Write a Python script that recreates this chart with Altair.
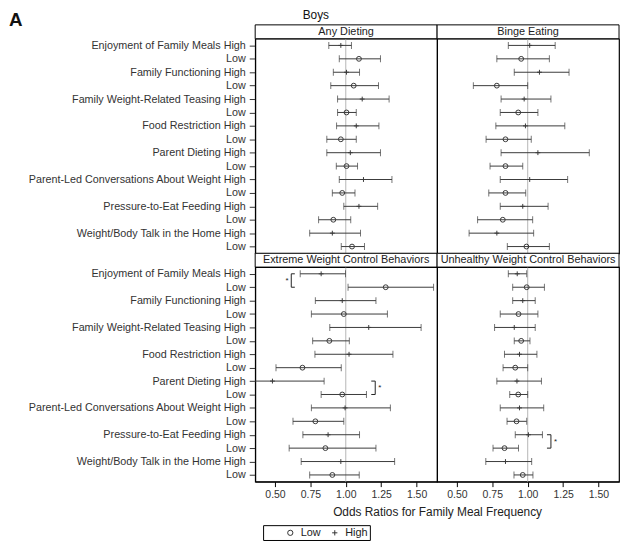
import altair as alt
import pandas as pd

factors = [
    "Enjoyment of Family Meals",
    "Family Functioning",
    "Family Weight-Related Teasing",
    "Food Restriction",
    "Parent Dieting",
    "Parent-Led Conversations About Weight",
    "Pressure-to-Eat Feeding",
    "Weight/Body Talk in the Home",
]
levels = ["High", "Low"]
outcomes = [
    "Any Dieting",
    "Binge Eating",
    "Extreme Weight Control Behaviors",
    "Unhealthy Weight Control Behaviors",
]

# rows: factor High, Low, next factor High, Low ...
any_est = [0.965, 1.093, 1.005, 1.056, 1.116, 1.005, 1.074, 0.965, 1.032, 1.005, 1.125, 0.975, 1.093, 0.912, 0.905, 1.044]
any_lo = [0.880, 0.954, 0.912, 0.894, 0.942, 0.942, 0.935, 0.866, 0.866, 0.933, 0.954, 0.905, 0.986, 0.808, 0.745, 0.968]
any_hi = [1.040, 1.245, 1.097, 1.231, 1.306, 1.074, 1.234, 1.074, 1.245, 1.083, 1.326, 1.065, 1.225, 1.035, 1.104, 1.132]

binge_est = [1.014, 0.954, 1.083, 0.782, 0.975, 0.933, 0.984, 0.843, 1.072, 0.843, 1.014, 0.843, 0.965, 0.824, 0.782, 0.991]
binge_lo = [0.863, 0.782, 0.905, 0.616, 0.812, 0.806, 0.775, 0.706, 0.812, 0.734, 0.806, 0.725, 0.806, 0.646, 0.586, 0.856]
binge_hi = [1.194, 1.153, 1.292, 1.000, 1.164, 1.072, 1.262, 1.025, 1.435, 0.965, 1.282, 0.986, 1.144, 1.035, 1.042, 1.153]

ewcb_est = [0.826, 1.282, 0.975, 0.986, 1.162, 0.884, 1.023, 0.694, 0.482, 0.975, 0.995, 0.785, 0.875, 0.856, 0.965, 0.905]
ewcb_lo = [0.678, 1.016, 0.785, 0.757, 0.887, 0.766, 0.782, 0.507, 0.300, 0.826, 0.757, 0.627, 0.697, 0.600, 0.685, 0.745]
ewcb_hi = [0.998, 1.620, 1.213, 1.294, 1.532, 1.025, 1.333, 0.968, 0.847, 1.146, 1.315, 0.986, 1.097, 1.213, 1.345, 1.095]

uwcb_est = [0.926, 0.993, 0.965, 0.935, 0.905, 0.954, 0.942, 0.912, 0.924, 0.933, 0.942, 0.921, 1.005, 0.836, 0.843, 0.965]
uwcb_lo = [0.863, 0.894, 0.894, 0.806, 0.766, 0.905, 0.836, 0.826, 0.782, 0.873, 0.806, 0.854, 0.912, 0.755, 0.704, 0.903]
uwcb_hi = [0.993, 1.118, 1.053, 1.072, 1.053, 1.016, 1.065, 1.000, 1.097, 1.000, 1.113, 0.993, 1.104, 0.935, 1.028, 1.037]

# significance brackets: outcome, bracket line x, cap end x, first row, second row, star x
ann_outcome = ["Extreme Weight Control Behaviors", "Extreme Weight Control Behaviors", "Unhealthy Weight Control Behaviors"]
ann_x = [0.615, 1.208, 1.164]
ann_cap = [0.640, 1.180, 1.136]
ann_row_a = [0, 8, 12]
ann_row_b = [1, 9, 13]
ann_star = [0.585, 1.240, 1.196]

tick_values = [0.50, 0.75, 1.00, 1.25, 1.50]

row_labels = []
for f in factors:
    row_labels += [f + " High", "Low"]

series = {
    outcomes[0]: (any_est, any_lo, any_hi),
    outcomes[1]: (binge_est, binge_lo, binge_hi),
    outcomes[2]: (ewcb_est, ewcb_lo, ewcb_hi),
    outcomes[3]: (uwcb_est, uwcb_lo, uwcb_hi),
}

records = []
for o, (e, lo, hi) in series.items():
    for i in range(16):
        records.append({"outcome": o, "row": i, "level": levels[i % 2],
                        "est": e[i], "lo": lo[i], "hi": hi[i]})
df = pd.DataFrame(records)

ann = pd.DataFrame({"outcome": ann_outcome, "x": ann_x, "cap": ann_cap,
                    "ra": ann_row_a, "rb": ann_row_b, "star": ann_star, "s": ["*"] * 3})

W, H = 184, 217
FONT = "Liberation Sans"
LINE = "#3a3a3a"
label_expr = "[" + ",".join("'" + l + "'" for l in row_labels) + "][datum.value]"

xscale = alt.Scale(domain=[0.36, 1.645], nice=False, zero=False)
yscale = alt.Scale(type="point", domain=list(range(16)), padding=0.5)


def panel(outcome, show_y, show_x, title_x, legend, extra_text=False):
    if show_x:
        xaxis = alt.Axis(values=tick_values, format=".2f", grid=False, tickSize=5,
                         labelFontSize=10.6, labelColor="#333", tickColor="black",
                         domainColor="black", labelPadding=3,
                         titleFontSize=12, titleFontWeight="normal", titleColor="#222",
                         titlePadding=7, **({"titleX": W} if title_x else {}))
    else:
        xaxis = None
    if show_y:
        yaxis = alt.Axis(labelExpr=label_expr, grid=False, tickSize=6, labelPadding=4,
                         labelFontSize=10.9, labelColor="#333", tickColor="#333",
                         labelLimit=400, domainColor="black", title=None)
    else:
        yaxis = None

    xtitle = "Odds Ratios for Family Meal Frequency" if title_x else None

    def X(field):
        return alt.X(field, type="quantitative", scale=xscale, axis=xaxis, title=xtitle)

    def Y(field):
        return alt.Y(field, type="ordinal", scale=yscale, axis=yaxis)

    d = df[df.outcome == outcome]
    base = alt.Chart(d)

    ref = alt.Chart(pd.DataFrame({"v": [1.0]})).mark_rule(color="#b5b5b5", strokeWidth=1).encode(x=X("v"))
    ci = base.mark_rule(color=LINE, strokeWidth=1, clip=True).encode(x=X("lo"), x2="hi", y=Y("row"))
    cap_lo = base.mark_tick(color=LINE, size=7, thickness=1, orient="vertical", clip=True).encode(x=X("lo"), y=Y("row"))
    cap_hi = base.mark_tick(color=LINE, size=7, thickness=1, orient="vertical", clip=True).encode(x=X("hi"), y=Y("row"))
    if legend:
        leg = alt.Legend(orient="none", legendX=8, legendY=261, direction="horizontal",
                         title=" ", titleOrient="left", titlePadding=20,
                         strokeColor="black", padding=2, labelFontSize=11, labelColor="#222",
                         symbolSize=28, symbolStrokeWidth=1, symbolStrokeColor="#333",
                         columnPadding=8, labelOffset=5)
    else:
        leg = None
    pts = base.mark_point(filled=False, color=LINE, strokeWidth=1, size=24, opacity=1, clip=True).encode(
        x=X("est"), y=Y("row"),
        shape=alt.Shape("level:N", scale=alt.Scale(domain=["Low", "High"],
                                                   range=["circle", "M-1,0L1,0M0,-1L0,1"]),
                        legend=leg),
    )
    hdr = alt.Chart(pd.DataFrame({"t": [outcome]}))
    hbox = hdr.mark_rect(fill="white", stroke="black", strokeWidth=1).encode(
        x=alt.value(0), x2=alt.value(W), y=alt.value(-14), y2=alt.value(0))
    htxt = hdr.mark_text(fontSize=11, color="#222", baseline="middle", align="center").encode(
        x=alt.value(W / 2), y=alt.value(-7), text="t:N")
    layers = [ref, ci, cap_lo, cap_hi, pts, hbox, htxt]

    a = ann[ann.outcome == outcome]
    if len(a):
        ab = alt.Chart(a)
        vline = ab.mark_rule(color="#222", strokeWidth=1).encode(x=X("x"), y=Y("ra"), y2="rb")
        c1 = ab.mark_rule(color="#222", strokeWidth=1).encode(x=X("x"), x2="cap", y=Y("ra"))
        c2 = ab.mark_rule(color="#222", strokeWidth=1).encode(x=X("x"), x2="cap", y=Y("rb"))
        st = ab.mark_text(fontSize=8, color="#222", dy=7, baseline="middle").encode(x=X("star"), y=Y("ra"), text="s:N")
        layers += [vline, c1, c2, st]

    if extra_text:
        t = alt.Chart(pd.DataFrame({"t": ["Boys"]})).mark_text(
            fontSize=12, color="#111", align="left", baseline="middle").encode(
            x=alt.value(48), y=alt.value(-24), text="t:N")
        a_lbl = alt.Chart(pd.DataFrame({"t": ["A"]})).mark_text(
            fontSize=19, fontWeight="bold", color="#111", align="left", baseline="middle").encode(
            x=alt.value(-249), y=alt.value(-19), text="t:N")
        layers += [t, a_lbl]

    return alt.layer(*layers).properties(width=W, height=H)


p1 = panel(outcomes[0], True, False, False, False, extra_text=True)
p2 = panel(outcomes[1], False, False, False, False)
p3 = panel(outcomes[2], True, True, True, True)
p4 = panel(outcomes[3], False, True, False, False)

chart = alt.concat(p1, p2, p3, p4, columns=2, spacing={"row": 14, "column": 0},
                   bounds="flush").resolve_scale(
    shape="independent").resolve_legend(shape="independent").properties(
    padding={"top": -3, "left": 0, "right": 0, "bottom": 0}).configure(font=FONT).configure_view(
    stroke="black", strokeWidth=1.2)

chart.save("out.html", embed_options={"renderer": "svg", "actions": False})
